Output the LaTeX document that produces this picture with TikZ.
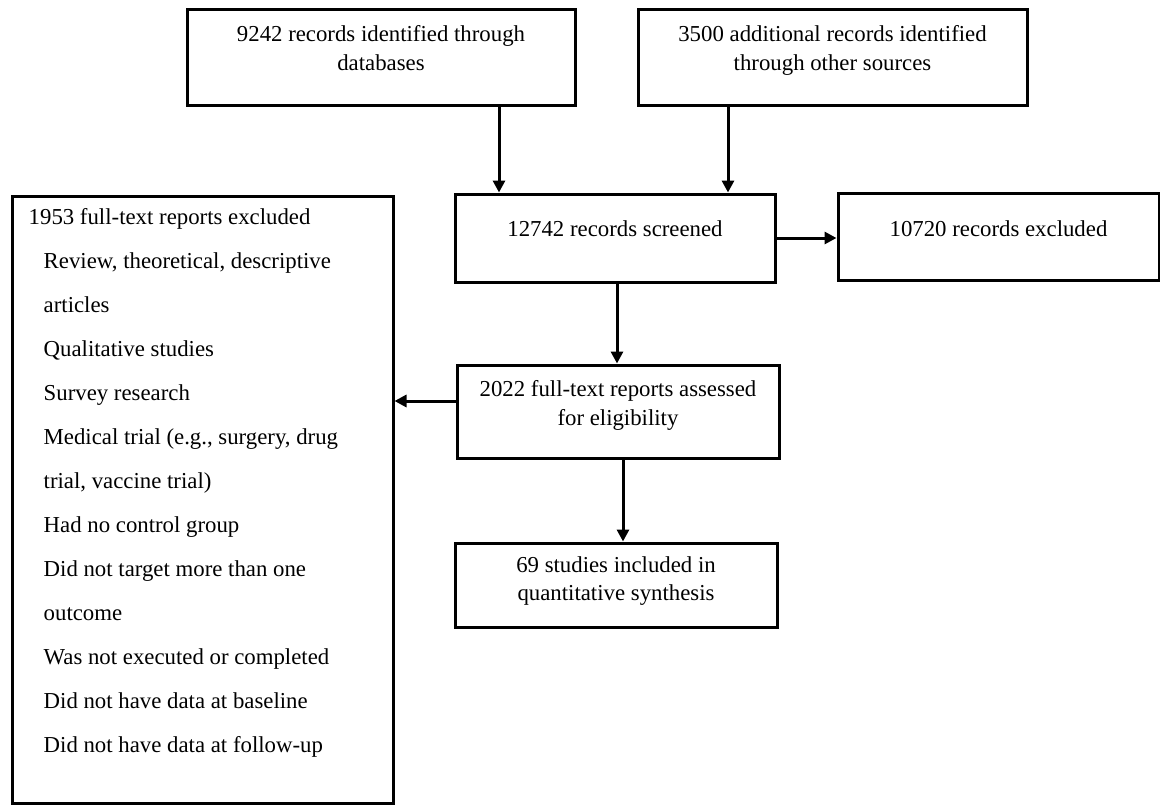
\documentclass[tikz,border=0pt]{standalone}
\usepackage{fontspec}
\setmainfont{Liberation Serif}
\usetikzlibrary{positioning,arrows.meta}

\tikzset{
	box/.style={rectangle, draw, line width=3pt, inner sep=0pt},
	txt/.style={align=center, inner sep=0pt, font=\fontsize{22.8pt}{28.8pt}\selectfont},
	lst/.style={align=left, inner sep=0pt, font=\fontsize{22.8pt}{44pt}\selectfont},
	arr/.style={line width=3pt, -{Triangle[length=12pt,width=12pt]}},
}

\begin{document}
\begin{tikzpicture}[x=1pt,y=-1pt]
	\useasboundingbox (0,0) rectangle (1160,804);
	% the boxes
	\node[box, minimum width=388pt, minimum height=96pt] (Ident) at (381,57) {};
	\node[box, minimum width=389pt, minimum height=96pt] (Other) at (832.5,57) {};
	\node[box, minimum width=320pt, minimum height=88pt] (Screen) at (615,238) {};
	\node[box, minimum width=321pt, minimum height=87pt] (Excl) at (998.5,236.5) {};
	\node[box, minimum width=381pt, minimum height=607pt] (Reasons) at (202.5,499.5) {};
	\node[box, minimum width=322pt, minimum height=93pt] (Full) at (618,411.5) {};
	\node[box, minimum width=322pt, minimum height=84pt] (Incl) at (616,585) {};
	% the texts
	\node[txt, below=17.5pt of Ident.north] (IdentText) {9242 records identified through\\databases};
	\node[txt, below=17.5pt of Other.north] (OtherText) {3500 additional records identified\\through other sources};
	\node[txt, below=27.5pt of Screen.north] (ScreenText) {12742 records screened};
	\node[txt, below=28.5pt of Excl.north] (ExclText) {10720 records excluded};
	\node[txt, below=16.5pt of Full.north] (FullText) {2022 full-text reports assessed\\for eligibility};
	\node[txt, below=14.5pt of Incl.north] (InclText) {69 studies included in\\quantitative synthesis};
	\node[lst, below right=13.5pt and 18pt of Reasons.north west] (ReasonsText) {1953 full-text reports excluded\\
		\hspace*{15pt}Review, theoretical, descriptive\\
		\hspace*{15pt}articles\\
		\hspace*{15pt}Qualitative studies\\
		\hspace*{15pt}Survey research\\
		\hspace*{15pt}Medical trial (e.g., surgery, drug\\
		\hspace*{15pt}trial, vaccine trial)\\
		\hspace*{15pt}Had no control group\\
		\hspace*{15pt}Did not target more than one\\
		\hspace*{15pt}outcome\\
		\hspace*{15pt}Was not executed or completed\\
		\hspace*{15pt}Did not have data at baseline\\
		\hspace*{15pt}Did not have data at follow-up};
	% draw the arrows
	\draw[arr] ([xshift=118pt]Ident.south) -- ([xshift=118pt]Ident.south |- Screen.north);
	\draw[arr] ([xshift=-104.5pt]Other.south) -- ([xshift=-104.5pt]Other.south |- Screen.north);
	\draw[arr] (Screen.east) -- (Screen.east -| Excl.west);
	\draw[arr] ([xshift=2pt]Screen.south) -- ([xshift=2pt]Screen.south |- Full.north);
	\draw[arr] ([yshift=10.5pt]Full.west) -- ([yshift=10.5pt]Full.west -| Reasons.east);
	\draw[arr] ([xshift=5pt]Full.south) -- ([xshift=5pt]Full.south |- Incl.north);
\end{tikzpicture}
\end{document}
